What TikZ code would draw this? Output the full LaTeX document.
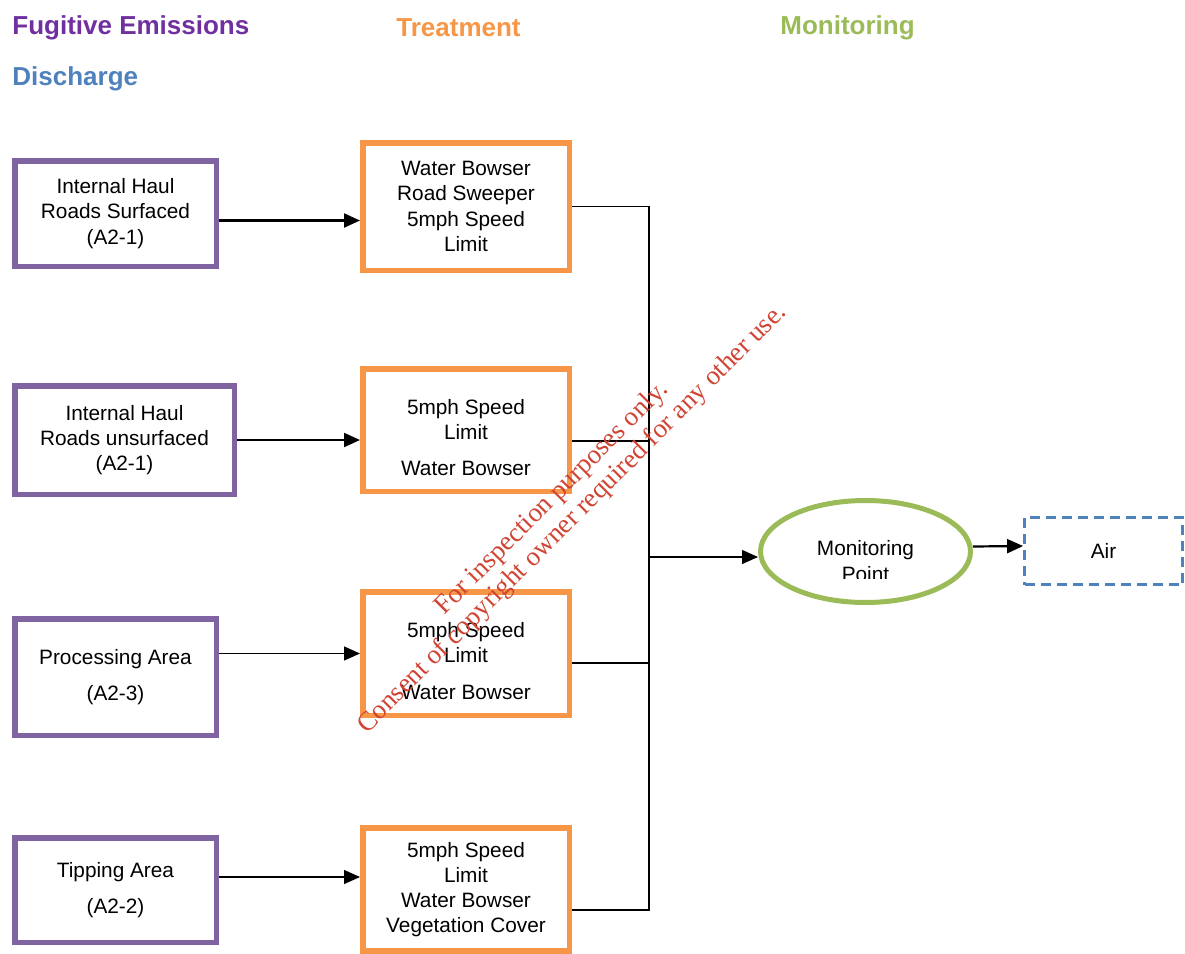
\documentclass[tikz,border=0pt]{standalone}
\usepackage{fontspec}
\setmainfont{Liberation Sans}
\newfontfamily\stampfont{Liberation Serif}
\usepackage{xcolor}
\usepackage{tikz}
\usetikzlibrary{shapes.geometric}
\usetikzlibrary{arrows.meta}
\definecolor{emisPurple}{HTML}{7030A0}
\definecolor{boxPurple}{HTML}{8064A2}
\definecolor{treatOrange}{HTML}{F79646}
\definecolor{monGreen}{HTML}{9BBB59}
\definecolor{disBlue}{HTML}{4F81BD}
\definecolor{stampRed}{RGB}{208,68,52}

\begin{document}
\begin{tikzpicture}[x=0.5pt,y=-0.5pt,
	every node/.style={font=\fontsize{10.4}{12.6}\selectfont},
	heading/.style={anchor=west,inner sep=0pt,font=\fontsize{13}{15}\selectfont\bfseries},
	source/.style={draw=boxPurple,line width=2.75pt,minimum width=100.75pt,align=center,inner sep=2pt},
	treat/.style={draw=treatOrange,line width=2.75pt,minimum width=103.25pt,align=center,inner sep=2pt},
	flow/.style={line width=0.65pt},
	bold flow/.style={line width=1.1pt},
	flowarrow/.style={-{Triangle[length=8pt,width=7pt]}}]
	\useasboundingbox (0,0) rectangle (1185,954);

	% headings
	\node[heading,text=emisPurple] (hdfug) at (12,28) {Fugitive Emissions};
	\node[heading,text=treatOrange] (hdtreat) at (396,28) {Treatment};
	\node[heading,text=monGreen] (hdmon) at (780,28) {Monitoring};
	\node[heading,text=disBlue] (hddis) at (12,79) {Discharge};

	% sources
	\node[source,minimum height=52.75pt] (s1) at (115.5,213.5) {Internal Haul\\Roads Surfaced\\(A2-1)};
	\node[source,minimum width=109.75pt,minimum height=54.25pt] (s2) at (124.5,440) {Internal Haul\\Roads unsurfaced\\(A2-1)};
	\node[source,minimum height=58.25pt] (s3) at (115.5,677) {Processing Area\\[5.5pt](A2-3)};
	\node[source,minimum height=52.25pt] (s4) at (115.5,890) {Tipping Area\\[5.5pt](A2-2)};

	% treatments
	\node[treat,minimum height=63.75pt] (t1) at (466,206.5) {Water Bowser\\Road Sweeper\\5mph Speed\\Limit};
	\node[treat,minimum height=61.25pt] (t2) at (466,430) {\rule{0pt}{15pt}5mph Speed\\Limit\\[5.5pt]Water Bowser};
	\node[treat,minimum height=61.75pt] (t3) at (466,653.5) {\rule{0pt}{15pt}5mph Speed\\Limit\\[5.5pt]Water Bowser};
	\node[treat,minimum height=61.5pt] (t4) at (466,889.5) {5mph Speed\\Limit\\Water Bowser\\Vegetation Cover};

	% monitoring and discharge
	\node[ellipse,draw=monGreen,line width=2.5pt,minimum width=105pt,minimum height=51pt,inner sep=0pt] (mp) at (865.5,551.5) {};
	\begin{scope}
		\clip (780,500) rectangle (950,578);
		\node[align=center] (mplabel) at (865.5,561) {Monitoring\\Point};
	\end{scope}
	\node[draw=disBlue,line width=1.4pt,dash pattern=on 5pt off 3pt,minimum width=79pt,minimum height=33.6pt] (air) at (1103.5,551) {Air};

	% arrows
	\coordinate (a1) at ([yshift=-3.5pt]s1.east);
	\coordinate (a4) at ([yshift=6.5pt]s4.east);
	\draw[bold flow,flowarrow] (a1) -- (a1 -| t1.west);
	\draw[bold flow,flowarrow] (s2.east) -- (s2.east -| t2.west);
	\draw[flow,flowarrow] (s3.east |- t3.west) -- (t3.west);
	\draw[flow,flowarrow] (a4) -- (a4 -| t4.west);

	\coordinate (bus) at (649,557);
	\coordinate (o2) at ([yshift=-5.5pt]t2.east);
	\coordinate (o3) at ([yshift=-4.75pt]t3.east);
	\coordinate (o4) at ([yshift=-10.25pt]t4.east);
	\draw[flow] (t1.east) -- (t1.east -| bus) -- (o4 -| bus) -- (o4);
	\draw[flow] (o2) -- (o2 -| bus);
	\draw[flow] (o3) -- (o3 -| bus);
	\draw[flow,flowarrow] (bus) -- (bus -| mp.west);
	\draw[bold flow,flowarrow] ([yshift=2.5pt]mp.east) -- ([yshift=2.5pt]air.west);

	% stamp
	\node[rotate=45,text=stampRed,align=center,font=\stampfont\fontsize{13.5}{14.5}\selectfont] (stamp) at (562.5,509) {For inspection purposes only.\\Consent of copyright owner required for any other use.};
\end{tikzpicture}
\end{document}
